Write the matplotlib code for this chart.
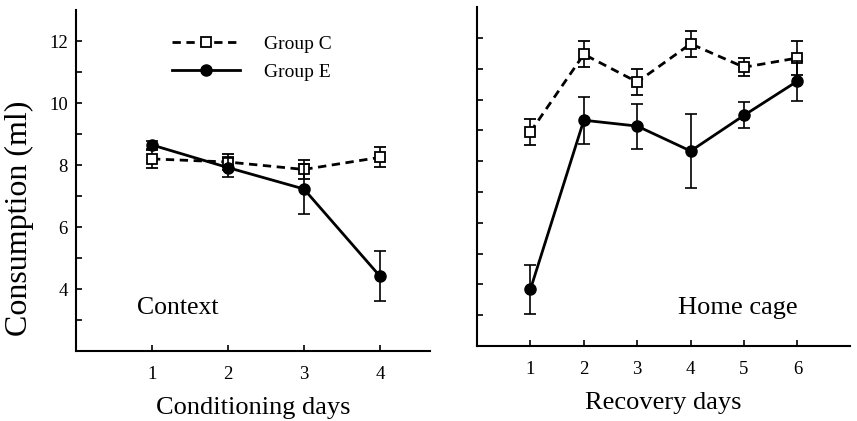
import matplotlib
matplotlib.use("Agg")
import matplotlib.pyplot as plt
from matplotlib.lines import Line2D
import numpy as np

plt.rcParams['font.family'] = ['Liberation Serif', 'DejaVu Serif']

# Left panel: Context (conditioning days)
cond_days = [1, 2, 3, 4]
cond_C = [8.2, 8.1, 7.86, 8.25]
cond_C_err = [0.3, 0.25, 0.3, 0.32]
cond_E = [8.65, 7.92, 7.23, 4.42]
cond_E_err = [0.12, 0.3, 0.8, 0.8]

# Right panel: Home cage (recovery days)
rec_days = [1, 2, 3, 4, 5, 6]
rec_C = [8.95, 11.47, 10.57, 11.81, 11.05, 11.35]
rec_C_err = [0.43, 0.42, 0.42, 0.42, 0.3, 0.55]
rec_E = [3.84, 9.33, 9.14, 8.33, 9.49, 10.6]
rec_E_err = [0.8, 0.77, 0.73, 1.2, 0.42, 0.65]

yticks_major = [4, 6, 8, 10, 12]

fig = plt.figure(figsize=(8.57, 4.21), dpi=100)
axL = fig.add_axes([0.0887, 0.166, 0.413, 0.81])
axR = fig.add_axes([0.5566, 0.178, 0.435, 0.805])

C_style = dict(color='black', linestyle=(0, (3, 2)), linewidth=2,
               marker='s', markersize=7, markerfacecolor='white',
               markeredgecolor='black', markeredgewidth=1.3)
E_style = dict(color='black', linestyle='-', linewidth=2,
               marker='o', markersize=8, markerfacecolor='black',
               markeredgecolor='black')

def style(ax, xticks, xlim, labels_y):
    ax.set_ylim(2, 13)
    ax.set_xlim(*xlim)
    for s in ['top', 'right']:
        ax.spines[s].set_visible(False)
    for s in ['left', 'bottom']:
        ax.spines[s].set_linewidth(1.5)
    ax.set_xticks(xticks)
    ax.set_xticklabels([str(d) for d in xticks])
    ax.set_yticks(np.arange(3, 13, 1), minor=True)
    ax.set_yticks(yticks_major)
    if labels_y:
        ax.set_yticklabels([str(v) for v in yticks_major])
    else:
        ax.set_yticklabels([])
    ax.tick_params(axis='both', which='both', direction='in', length=4, width=1.2, labelsize=13.5)
    ax.tick_params(axis='x', pad=11)
    ax.tick_params(axis='y', pad=6)

def draw(ax, x, c, ce, e, ee):
    ax.errorbar(x, c, yerr=ce, capsize=4, elinewidth=1.2, capthick=1.2, zorder=3, **C_style)
    ax.errorbar(x, e, yerr=ee, capsize=4, elinewidth=1.2, capthick=1.2, zorder=4, **E_style)

draw(axL, cond_days, cond_C, cond_C_err, cond_E, cond_E_err)
draw(axR, rec_days, rec_C, rec_C_err, rec_E, rec_E_err)

style(axL, cond_days, (0, 4.66), True)
style(axR, rec_days, (0, 6.98), False)

axL.set_ylabel('Consumption (ml)', fontsize=23, labelpad=4)
axL.yaxis.set_label_coords(-0.118, 0.39)
axL.set_xlabel('Conditioning days', fontsize=19, labelpad=10)
axR.set_xlabel('Recovery days', fontsize=19, labelpad=10)

axL.text(0.8, 3.4, 'Context', fontsize=18.5, ha='left', va='center')
axR.text(6.0, 3.22, 'Home cage', fontsize=19, ha='right', va='center')

handles = [Line2D([], [], **C_style), Line2D([], [], **E_style)]
axL.legend(handles, ['Group C', 'Group E'], loc='upper left', bbox_to_anchor=(0.271, 0.927),
           frameon=False, fontsize=14, handlelength=3.5, handletextpad=1.24,
           labelspacing=0.55, borderpad=0, borderaxespad=0)

fig.savefig('out.png', dpi=100)
